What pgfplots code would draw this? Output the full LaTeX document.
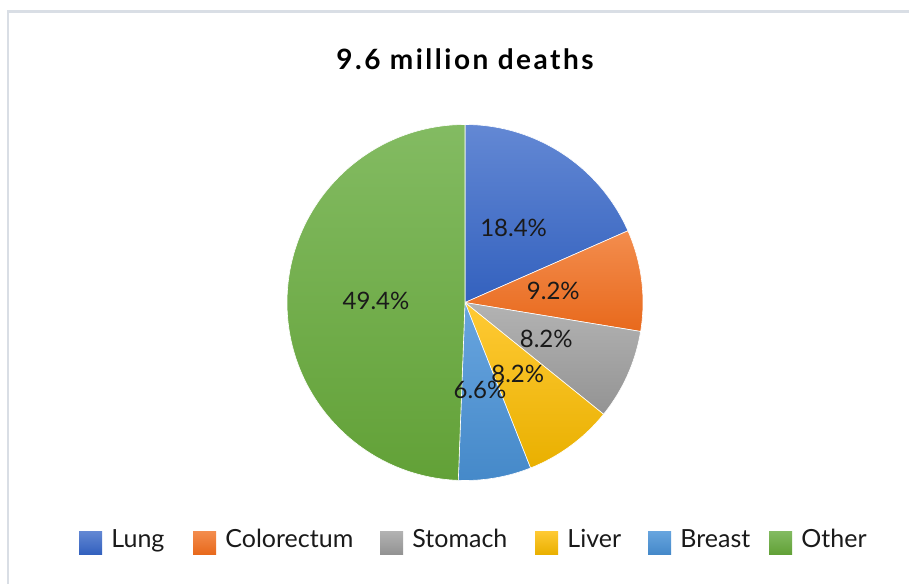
\documentclass[border=0pt]{standalone}
\usepackage{pgfplots}
\pgfplotsset{compat=1.18}
\usepackage{pgfplotstable}
\usepackage{fontspec}
\setmainfont{Lato}
\newfontfamily\titlefont[LetterSpace=9]{Lato}

% slice colours: light at the top of each wedge, darker at the bottom
\definecolor{top0}{HTML}{6388D4}\definecolor{bot0}{HTML}{3361BE}
\definecolor{top1}{HTML}{F38D4E}\definecolor{bot1}{HTML}{E8691C}
\definecolor{top2}{HTML}{B3B3B3}\definecolor{bot2}{HTML}{939393}
\definecolor{top3}{HTML}{FFCA35}\definecolor{bot3}{HTML}{E9B000}
\definecolor{top4}{HTML}{68A5DF}\definecolor{bot4}{HTML}{4589C9}
\definecolor{top5}{HTML}{83BB62}\definecolor{bot5}{HTML}{62A137}
\definecolor{frame}{HTML}{D9DEE5}
\definecolor{labeltext}{HTML}{1A1A1A}

% share of cancer deaths (percent)
\pgfplotstableread{
name       value
Lung       18.4
Colorectum 9.2
Stomach    8.2
Liver      8.2
Breast     6.6
Other      49.4
}\piedata

\begin{document}
\begin{tikzpicture}[x=0.5pt,y=-0.5pt]
  \useasboundingbox (0,0) rectangle (909,583);
  \clip (0,0) rectangle (909,583);

  % start/end/middle angle of each wedge, clockwise from 12 o'clock
  \def\cum{90}
  \pgfplotsforeachungrouped \i in {0,...,5}{%
    \pgfplotstablegetelem{\i}{value}\of\piedata
    \let\v\pgfplotsretval
    \pgfmathsetmacro\e{\cum-3.6*\v}%
    \pgfmathsetmacro\m{\cum-1.8*\v}%
    \expandafter\xdef\csname sa\i\endcsname{\cum}%
    \expandafter\xdef\csname ea\i\endcsname{\e}%
    \expandafter\xdef\csname ma\i\endcsname{\m}%
    \expandafter\xdef\csname val\i\endcsname{\v}%
    \pgfplotstablegetelem{\i}{name}\of\piedata
    \expandafter\xdef\csname nm\i\endcsname{\pgfplotsretval}%
    \xdef\cum{\e}%
  }

  % chart frame
  \draw[frame, line width=1.4] (8,600) |- (930,11.5);

  % title
  \node[font=\titlefont\bfseries\fontsize{14pt}{16pt}\selectfont, anchor=base]
    at (465,70) {9.6 million deaths};

  \coordinate (piecentre) at (465,302.5);
  \begin{axis}[
    at={(piecentre)}, anchor=center,
    x=89pt, y=89pt,
    xmin=-1, xmax=1, ymin=-1, ymax=1,
    disabledatascaling,
    hide axis, clip=false,
  ]
    \pgfplotsinvokeforeach{0,...,5}{
      \shade[top color=top#1, bottom color=bot#1, draw=white, line width=0.3pt]
        (axis cs:0,0)
        -- (axis cs:{cos(\csname sa#1\endcsname)},{sin(\csname sa#1\endcsname)})
        arc[start angle=\csname sa#1\endcsname, end angle=\csname ea#1\endcsname, radius=1]
        -- cycle;
    }
    \pgfplotsinvokeforeach{0,...,5}{
      \node[text=labeltext, font=\fontsize{12pt}{14pt}\selectfont]
        at (axis cs:{0.5*cos(\csname ma#1\endcsname)},{0.5*sin(\csname ma#1\endcsname)})
        {\csname val#1\endcsname\%};
    }
  \end{axis}

  % legend
  \foreach \i/\x in {0/79,1/193,2/380,3/535,4/648,5/769}{
    \shade[top color=top\i, bottom color=bot\i] (\x,531) rectangle ++(23,23);
    \node[anchor=base west, inner sep=0pt, text=labeltext,
          font=\fontsize{12.5pt}{15pt}\selectfont]
      at (\x+32,547) {\csname nm\i\endcsname};
  }
\end{tikzpicture}
\end{document}
